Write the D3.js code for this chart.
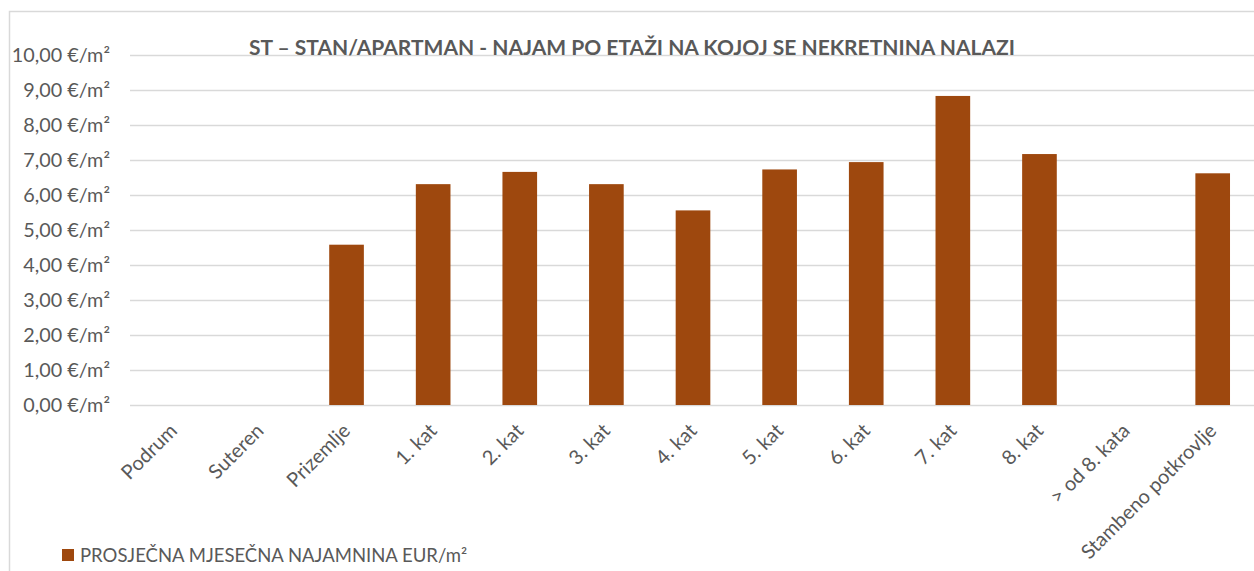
<!DOCTYPE html>
<html>
<head>
<meta charset="utf-8">
<script src="https://cdn.jsdelivr.net/npm/d3@7"></script>
<style>
  body { margin: 0; background: #fff; }
  svg text { font-family: Lato, "Open Sans", sans-serif; fill: #595959; }
</style>
</head>
<body>
<svg id="chart" width="1254" height="571"></svg>
<script>
// data
const categories = ["Podrum", "Suteren", "Prizemlje", "1. kat", "2. kat", "3. kat", "4. kat",
  "5. kat", "6. kat", "7. kat", "8. kat", "> od 8. kata", "Stambeno potkrovlje"];
const rent = [null, null, 4.58, 6.31, 6.66, 6.31, 5.56, 6.73, 6.94, 8.83, 7.17, null, 6.62];
const yTicks = [0, 1, 2, 3, 4, 5, 6, 7, 8, 9, 10];
const title = "ST \u2013 STAN/APARTMAN - NAJAM PO ETAŽI NA KOJOJ SE NEKRETNINA NALAZI";
const seriesName = "PROSJEČNA MJESEČNA NAJAMNINA EUR/m²";

const svg = d3.select("#chart");
const barColor = "#9e480e";

// chart area frame (cropped on right and bottom in the original)
svg.append("rect")
  .attr("x", 9.5).attr("y", 11.5)
  .attr("width", 1400).attr("height", 800)
  .attr("fill", "none").attr("stroke", "#d9d9d9").attr("stroke-width", 1.5);

const plotLeft = 130, plotRight = 1256, plotTop = 55, plotBottom = 405;

const x = d3.scaleBand().domain(categories).range([plotLeft, plotRight])
  .paddingInner(0.6).paddingOuter(0.3);
const y = d3.scaleLinear().domain([0, 10]).range([plotBottom, plotTop]);

// gridlines + y labels
const yAxis = svg.append("g").attr("transform", "translate(" + plotLeft + ",0)")
  .call(d3.axisLeft(y).tickValues(yTicks).tickSize(-(plotRight - plotLeft)).tickPadding(20)
    .tickFormat(d => d3.format(".2f")(d).replace(".", ",") + " €/m²"));
yAxis.select(".domain").remove();
yAxis.selectAll(".tick line").attr("stroke", "#d9d9d9").attr("stroke-width", 1.5);
yAxis.selectAll(".tick text").attr("font-size", 19.8).attr("fill", "#595959")
  .attr("font-family", "Lato, sans-serif");

// bars
svg.append("g").selectAll("rect")
  .data(categories.map((c, i) => ({ c: c, v: rent[i] })).filter(d => d.v != null))
  .enter().append("rect")
  .attr("x", d => x(d.c))
  .attr("y", d => y(d.v))
  .attr("width", x.bandwidth())
  .attr("height", d => y(0) - y(d.v))
  .attr("fill", barColor);

// x labels, rotated
const xAxis = svg.append("g").attr("transform", "translate(0," + plotBottom + ")")
  .call(d3.axisBottom(x).tickSize(0).tickPadding(0));
xAxis.select(".domain").remove();
xAxis.selectAll(".tick text")
  .attr("font-size", 20).attr("fill", "#595959").attr("font-family", "Lato, sans-serif")
  .attr("text-anchor", "end")
  .attr("dy", 0).attr("y", 0)
  .attr("transform", "translate(5,27) rotate(-45)");

// title
svg.append("text")
  .attr("x", 632).attr("y", 55)
  .attr("text-anchor", "middle")
  .attr("font-size", 21).attr("font-weight", "bold")
  .text(title);

// legend
svg.append("rect").attr("x", 62).attr("y", 549).attr("width", 12).attr("height", 12).attr("fill", barColor);
svg.append("text").attr("x", 80).attr("y", 562).attr("font-size", 18.5).text(seriesName);
</script>
</body>
</html>
